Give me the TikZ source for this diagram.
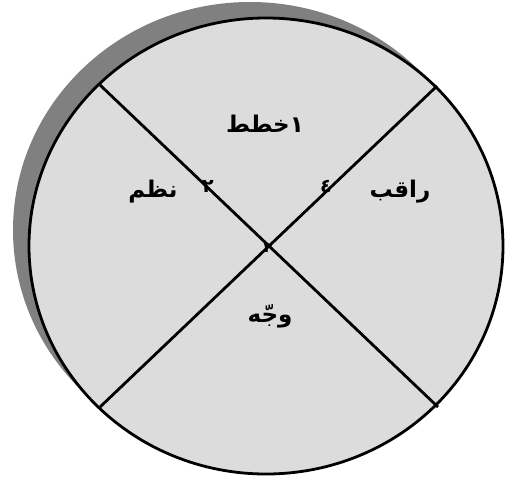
\documentclass[tikz,border=0pt]{standalone}
\usepackage{fontspec}
\TeXXeTstate=1
\newfontfamily\arabicfont[Script=Arabic]{DejaVu Sans}
\definecolor{discfill}{RGB}{220,220,220}
\definecolor{shadowgray}{RGB}{128,128,128}
\begin{document}
\begin{tikzpicture}[x=1pt,y=-1pt,
  lbl/.style={font=\arabicfont\bfseries\fontsize{23}{26}\selectfont, inner sep=0pt},
  small/.style={font=\arabicfont\bfseries\fontsize{19}{22}\selectfont, inner sep=0pt},
  tiny/.style={font=\arabicfont\bfseries\fontsize{14}{16}\selectfont, inner sep=0pt},
  divider/.style={line width=2.8pt, draw=black}]
\useasboundingbox (0,0) rectangle (505,482);
\fill[shadowgray] (250,230) ellipse [x radius=237, y radius=228];
\draw[fill=discfill, line width=2.8pt] (266,246) ellipse [x radius=237, y radius=228];
\coordinate (tl) at (100,85);
\coordinate (br) at (438,407);
\coordinate (tr) at (437,86);
\coordinate (bl) at (100,407);
\node[tiny] (n3) at (268,248) {\beginR ٣\endR};
\draw[divider] (tl) -- (br);
\draw[divider] (tr) -- (bl);
\node[lbl] (plan) at (265,124) {\beginR ١خطط\endR};
\node[lbl] (org) at (153,192) {\beginR نظم\endR};
\node[small] (n2) at (208,186) {\beginR ٢\endR};
\node[lbl] (ctrl) at (400,192) {\beginR راقب\endR};
\node[small] (n4) at (326,186) {\beginR ٤\endR};
\node[lbl] (dir) at (270,316) {\beginR وجّه\endR};
\end{tikzpicture}
\end{document}
